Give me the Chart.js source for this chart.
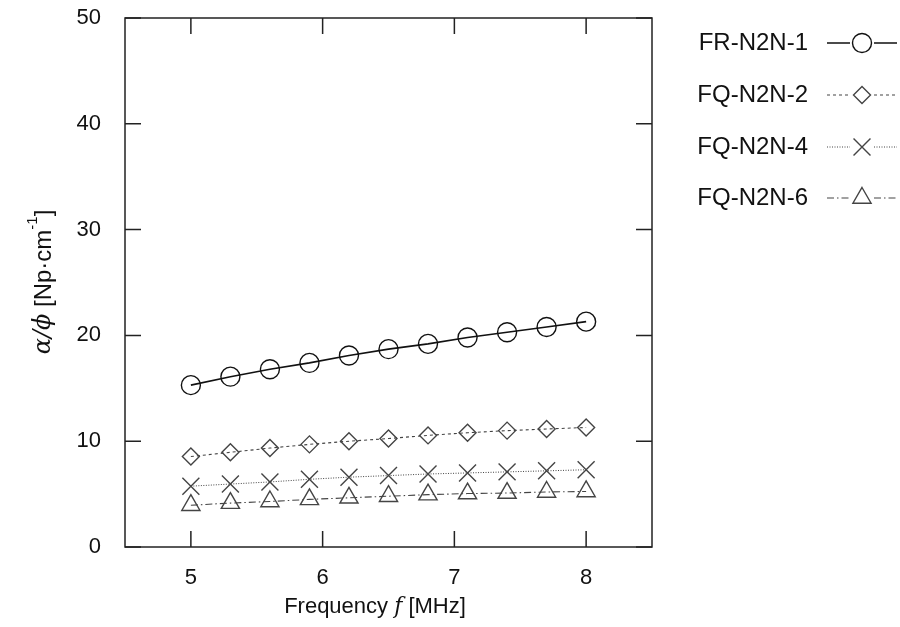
<!DOCTYPE html>
<html>
<head>
<meta charset="utf-8">
<script src="https://cdn.jsdelivr.net/npm/chart.js@4/dist/chart.umd.min.js"></script>
<style>
  html, body { margin: 0; padding: 0; background: #fff; }
  #wrap { width: 900px; height: 627px; }
</style>
</head>
<body>
<div id="wrap"><canvas id="myChart" width="900" height="627"></canvas></div>
<script>
/*
* Data
*/
var freq = [5.0, 5.3, 5.6, 5.9, 6.2, 6.5, 6.8, 7.1, 7.4, 7.7, 8.0];
var seriesNames = ['FR-N2N-1', 'FQ-N2N-2', 'FQ-N2N-4', 'FQ-N2N-6'];
var fr1 = [15.3, 16.1, 16.8, 17.4, 18.1, 18.7, 19.2, 19.8, 20.3, 20.8, 21.3];
var fq2 = [8.55, 8.95, 9.35, 9.7, 10.0, 10.25, 10.55, 10.8, 11.0, 11.15, 11.3];
var fq4 = [5.75, 5.95, 6.15, 6.4, 6.6, 6.75, 6.9, 7.0, 7.1, 7.2, 7.3];
var fq6 = [3.95, 4.15, 4.3, 4.5, 4.65, 4.8, 4.95, 5.05, 5.1, 5.2, 5.25];
var xTicks = [5, 6, 7, 8];
var yTicks = [0, 10, 20, 30, 40, 50];

var FONT = '"Liberation Sans", Arial, sans-serif';

function pts(ys) {
  return freq.map(function(x, i) { return { x: x, y: ys[i] }; });
}

/*
* Styles per series
*/
var styles = [
  { data: fr1, color: '#111', lineWidth: 1.6, dash: [], point: 'circle', radius: 9.5 },
  { data: fq2, color: '#444', lineWidth: 1.1, dash: [3, 3], point: 'rectRot', radius: 8.5 },
  { data: fq4, color: '#444', lineWidth: 1.0, dash: [1, 1.5], point: 'crossRot', radius: 12 },
  { data: fq6, color: '#444', lineWidth: 1.1, dash: [7, 3, 1.5, 3], point: 'triangle', radius: 10.5 }
];

var datasets = styles.map(function(s, i) {
  return {
    label: seriesNames[i],
    data: pts(s.data),
    borderColor: s.color,
    borderWidth: s.lineWidth,
    borderDash: s.dash,
    pointStyle: s.point,
    pointRadius: s.radius,
    pointBorderColor: s.color,
    pointBackgroundColor: 'rgba(0,0,0,0)',
    pointBorderWidth: 1.4,
    fill: false,
    tension: 0
  };
});

/*
* Legend marker (same shapes as the chart's point styles)
*/
function marker(ctx, style, r, x, y) {
  ctx.beginPath();
  if (style === 'circle') {
    ctx.arc(x, y, r, 0, Math.PI * 2);
  } else if (style === 'rectRot') {
    ctx.moveTo(x, y - r); ctx.lineTo(x + r, y); ctx.lineTo(x, y + r); ctx.lineTo(x - r, y); ctx.closePath();
  } else if (style === 'crossRot') {
    var d = r * Math.SQRT1_2;
    ctx.moveTo(x - d, y - d); ctx.lineTo(x + d, y + d);
    ctx.moveTo(x + d, y - d); ctx.lineTo(x - d, y + d);
  } else if (style === 'triangle') {
    ctx.moveTo(x, y - r);
    ctx.lineTo(x + r * Math.sin(Math.PI * 2 / 3), y - r * Math.cos(Math.PI * 2 / 3));
    ctx.lineTo(x + r * Math.sin(Math.PI * 4 / 3), y - r * Math.cos(Math.PI * 4 / 3));
    ctx.closePath();
  }
  ctx.stroke();
}

/*
* Frame, inward ticks, axis titles and legend
*/
var decor = {
  id: 'decor',
  afterDatasetsDraw: function(chart) {
    var ctx = chart.ctx;
    var a = chart.chartArea;
    var xs = chart.scales.x, ys = chart.scales.y;
    ctx.save();
    ctx.strokeStyle = '#222';
    ctx.lineWidth = 1.5;
    ctx.strokeRect(a.left, a.top, a.right - a.left, a.bottom - a.top);
    var tl = 16;
    ctx.beginPath();
    xTicks.forEach(function(v) {
      var px = xs.getPixelForValue(v);
      ctx.moveTo(px, a.bottom); ctx.lineTo(px, a.bottom - tl);
      ctx.moveTo(px, a.top); ctx.lineTo(px, a.top + tl);
    });
    yTicks.forEach(function(v) {
      var py = ys.getPixelForValue(v);
      ctx.moveTo(a.left, py); ctx.lineTo(a.left + tl, py);
      ctx.moveTo(a.right, py); ctx.lineTo(a.right - tl, py);
    });
    ctx.stroke();

    // x title
    ctx.fillStyle = '#111';
    ctx.textBaseline = 'middle';
    var xParts = [
      { t: 'Frequency ', f: '22px ' + FONT },
      { t: 'f', f: 'italic 22px "DejaVu Serif", serif' },
      { t: ' [MHz]', f: '22px ' + FONT }
    ];
    drawParts(ctx, xParts, 375, 607);

    // y title (rotated)
    ctx.save();
    ctx.translate(44, 282);
    ctx.rotate(-Math.PI / 2);
    var yParts = [
      { t: '\u03B1/\u03D5', f: 'italic 24px "DejaVu Serif", serif' },
      { t: ' [Np\u00B7cm', f: '24px ' + FONT },
      { t: '-1', f: '15px ' + FONT, dy: -11 },
      { t: ']', f: '24px ' + FONT }
    ];
    drawParts(ctx, yParts, 0, 0);
    ctx.restore();

    // legend
    var rowY = [43, 95, 147, 198];
    styles.forEach(function(s, i) {
      var y = rowY[i];
      ctx.font = '24px ' + FONT;
      ctx.textAlign = 'right';
      ctx.textBaseline = 'middle';
      ctx.fillStyle = '#111';
      ctx.fillText(seriesNames[i], 808, y);
      ctx.strokeStyle = s.color;
      ctx.lineWidth = s.lineWidth;
      ctx.setLineDash(s.dash);
      ctx.beginPath();
      ctx.moveTo(827, y); ctx.lineTo(850, y);
      ctx.moveTo(874, y); ctx.lineTo(897, y);
      ctx.stroke();
      ctx.setLineDash([]);
      ctx.lineWidth = 1.4;
      marker(ctx, s.point, s.radius, 862, y);
    });
    ctx.restore();
  }
};

function drawParts(ctx, parts, cx, cy) {
  var total = 0;
  parts.forEach(function(p) { ctx.font = p.f; total += ctx.measureText(p.t).width; });
  var x = cx - total / 2;
  ctx.textAlign = 'left';
  parts.forEach(function(p) {
    ctx.font = p.f;
    ctx.fillText(p.t, x, cy + (p.dy || 0));
    x += ctx.measureText(p.t).width;
  });
}

/*
* Chart
*/
var ctx = document.getElementById('myChart').getContext('2d');
var chart = new Chart(ctx, {
  type: 'line',
  data: { datasets: datasets },
  plugins: [decor],
  options: {
    responsive: false,
    animation: false,
    layout: { padding: { top: 18, right: 248, left: 0, bottom: 0 } },
    plugins: { legend: { display: false }, tooltip: { enabled: false } },
    scales: {
      x: {
        type: 'linear', min: 4.5, max: 8.5,
        grid: { display: false, drawTicks: false },
        border: { display: false },
        afterBuildTicks: function(s) { s.ticks = xTicks.map(function(v) { return { value: v }; }); },
        afterFit: function(s) { s.height = 80; s.paddingLeft = 0; s.paddingRight = 0; },
        ticks: { color: '#111', font: { family: FONT, size: 22 }, padding: 18 }
      },
      y: {
        type: 'linear', min: 0, max: 50,
        grid: { display: false, drawTicks: false },
        border: { display: false },
        afterBuildTicks: function(s) { s.ticks = yTicks.map(function(v) { return { value: v }; }); },
        afterFit: function(s) { s.width = 125; s.paddingTop = 0; s.paddingBottom = 0; },
        ticks: { color: '#111', font: { family: FONT, size: 22 }, padding: 24 }
      }
    }
  }
});
</script>
</body>
</html>
